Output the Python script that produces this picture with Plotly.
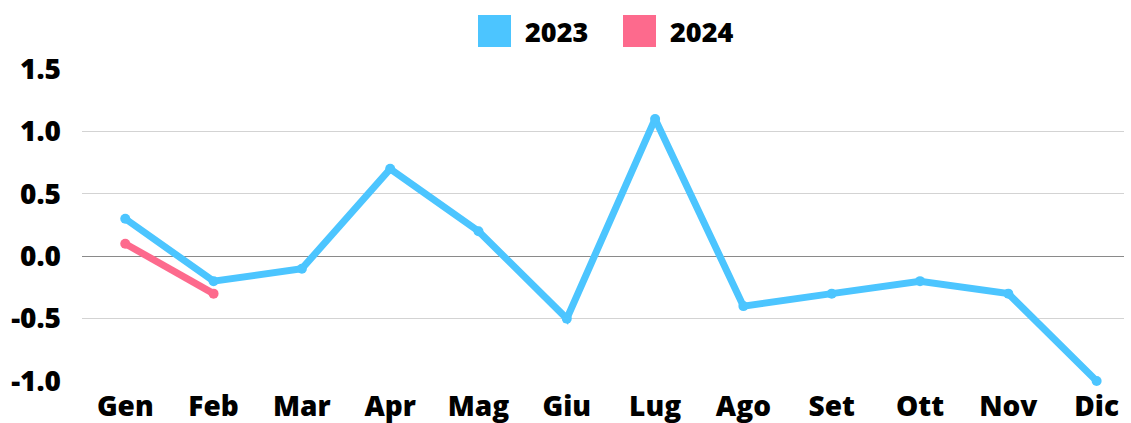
import plotly.graph_objects as go

months = ["Gen", "Feb", "Mar", "Apr", "Mag", "Giu", "Lug", "Ago", "Set", "Ott", "Nov", "Dic"]
values_2023 = [0.3, -0.2, -0.1, 0.7, 0.2, -0.5, 1.1, -0.4, -0.3, -0.2, -0.3, -1.0]
values_2024 = [0.1, -0.3]
series_names = ["2023", "2024"]
colors = ["#4cc5ff", "#fd6a8d"]

FONT = "Open Sans"
L, R, T, B = 82, 7, 69, 42
W, H = 1131, 423
PW, PH = W - L - R, H - T - B

fig = go.Figure()
fig.add_trace(go.Scatter(x=list(range(len(months))), y=values_2023, mode="lines+markers",
                         line=dict(color=colors[0], width=7), marker=dict(size=10, color=colors[0]),
                         name=series_names[0], cliponaxis=False, showlegend=False))
fig.add_trace(go.Scatter(x=list(range(len(values_2024))), y=values_2024, mode="lines+markers",
                         line=dict(color=colors[1], width=7), marker=dict(size=10, color=colors[1]),
                         name=series_names[1], cliponaxis=False, showlegend=False))

# manual legend (large squares)
legend_x = [478, 623]
for i, name in enumerate(series_names):
    fig.add_shape(type="rect", xref="paper", yref="paper",
                  x0=(legend_x[i] - L) / PW, x1=(legend_x[i] + 33 - L) / PW,
                  y0=(H - B - 47) / PH, y1=(H - B - 15) / PH,
                  fillcolor=colors[i], line=dict(width=0))
    fig.add_annotation(xref="paper", yref="paper",
                       x=(legend_x[i] + 45 - L) / PW, y=(H - B - 31) / PH,
                       text=name, showarrow=False, xanchor="left", yanchor="middle",
                       font=dict(family=FONT, size=27, color="#000", weight=800))

fig.update_layout(
    width=W, height=H,
    margin=dict(l=L, r=R, t=T, b=B, autoexpand=False),
    plot_bgcolor="white", paper_bgcolor="white",
    showlegend=False,
    xaxis=dict(range=[-0.49, 11.31], tickmode="array", tickvals=list(range(len(months))),
               ticktext=months, showgrid=False, zeroline=False, showline=False,
               ticks="", ticklabelstandoff=6, automargin=False,
               tickfont=dict(family=FONT, size=28, color="#000", weight=800)),
    yaxis=dict(range=[-1.0, 1.5], tickmode="array", tickvals=[-1.0, -0.5, 0.0, 0.5, 1.0, 1.5],
               ticktext=["-1.0", "-0.5", "0.0", "0.5", "1.0", "1.5"],
               showgrid=True, gridcolor="#d3d3d3", gridwidth=1,
               zeroline=True, zerolinecolor="#8a8a8a", zerolinewidth=1,
               showline=False, ticks="", ticklabelstandoff=20, automargin=False,
               tickfont=dict(family=FONT, size=28, color="#000", weight=800)),
)

fig.write_html("out.html", config={"displayModeBar": False},
               post_script="document.body.style.margin='0';document.body.style.overflow='hidden';")
